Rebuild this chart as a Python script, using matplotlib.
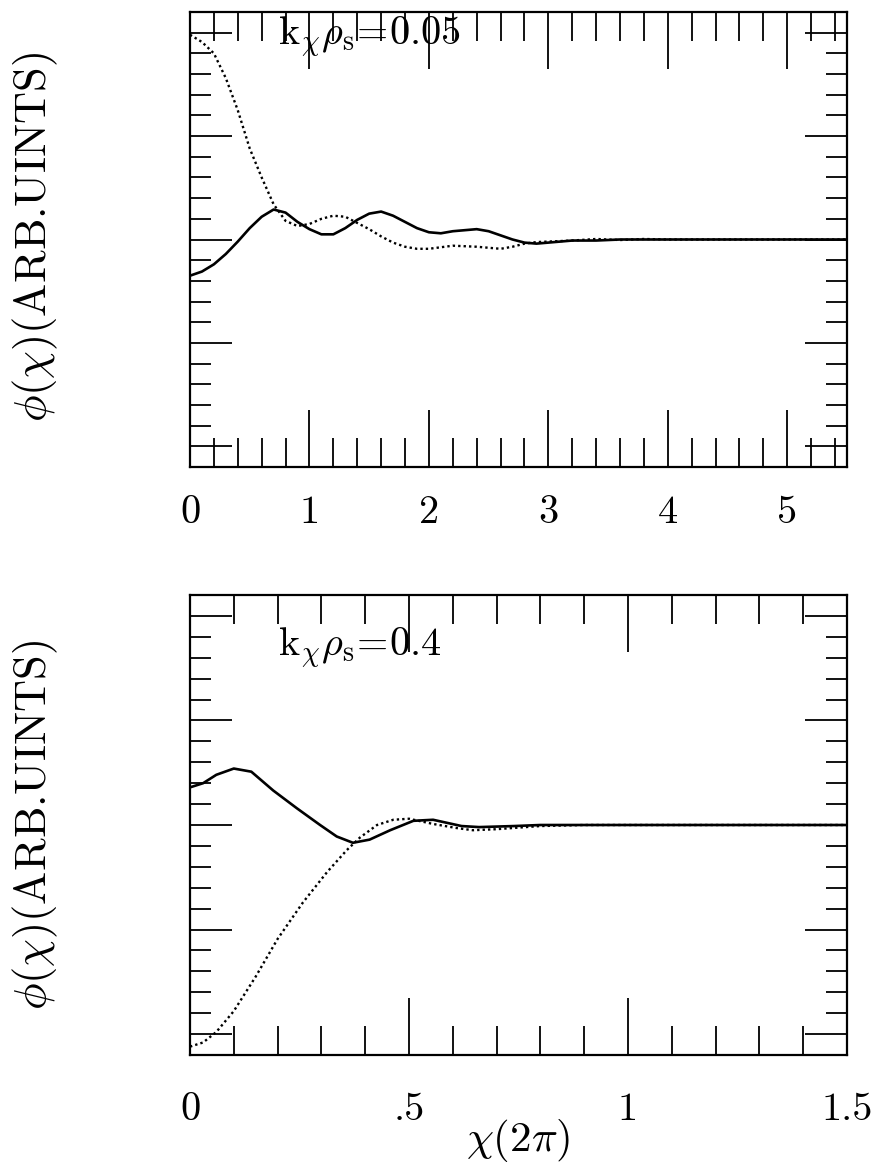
import matplotlib
matplotlib.use("Agg")
import matplotlib.pyplot as plt
from matplotlib.ticker import MultipleLocator, FixedLocator, FixedFormatter

plt.rcParams["font.family"] = "serif"
plt.rcParams["font.serif"] = ["cmr10", "DejaVu Serif"]
plt.rcParams["mathtext.fontset"] = "cm"
plt.rcParams["axes.unicode_minus"] = False

# panel a: k_x rho_s = 0.05, x in units of 2 pi
top_solid_x = [0, 0.1, 0.2, 0.3, 0.4, 0.5, 0.6, 0.7, 0.8, 0.9, 1.0, 1.1, 1.2, 1.3, 1.4, 1.5,
               1.6, 1.7, 1.8, 1.9, 2.0, 2.1, 2.2, 2.3, 2.4, 2.5, 2.6, 2.7, 2.8, 2.9, 3.0,
               3.2, 3.4, 3.6, 4.0, 4.5, 5.0, 5.5]
top_solid_y = [-0.35, -0.31, -0.24, -0.14, -0.02, 0.11, 0.22, 0.29, 0.26, 0.17, 0.10, 0.05,
               0.05, 0.11, 0.19, 0.25, 0.27, 0.23, 0.17, 0.11, 0.07, 0.06, 0.08, 0.09, 0.10,
               0.08, 0.04, 0.0, -0.03, -0.04, -0.03, -0.01, -0.01, 0.0, 0.0, 0.0, 0.0, 0.0]

top_dot_x = [0, 0.1, 0.2, 0.3, 0.4, 0.5, 0.6, 0.7, 0.8, 0.9, 1.0, 1.1, 1.2, 1.3, 1.4, 1.5,
             1.6, 1.7, 1.8, 1.9, 2.0, 2.2, 2.4, 2.6, 2.7, 2.8, 2.9, 3.0, 3.2, 3.4, 3.6,
             3.8, 4.0, 4.5, 5.0, 5.5]
top_dot_y = [1.98, 1.91, 1.80, 1.56, 1.25, 0.88, 0.60, 0.34, 0.18, 0.13, 0.15, 0.20, 0.23,
             0.22, 0.16, 0.10, 0.03, -0.03, -0.07, -0.09, -0.09, -0.06, -0.07, -0.09, -0.07,
             -0.04, -0.025, -0.02, -0.01, 0.005, -0.005, 0.005, 0.0, 0.0, 0.0, 0.0]

# panel b: k_x rho_s = 0.4
bot_solid_x = [0, 0.03, 0.06, 0.1, 0.14, 0.19, 0.244, 0.297, 0.335, 0.372, 0.41, 0.457,
               0.51, 0.555, 0.62, 0.66, 0.74, 0.8, 0.9, 1.0, 1.2, 1.5]
bot_solid_y = [0.36, 0.40, 0.48, 0.54, 0.51, 0.33, 0.16, 0.0, -0.11, -0.17, -0.14, -0.05,
               0.04, 0.05, -0.01, -0.02, -0.01, 0.0, 0.0, 0.0, 0.0, 0.0]

bot_dot_x = [0, 0.03, 0.06, 0.1, 0.15, 0.2, 0.258, 0.313, 0.358, 0.388, 0.427, 0.464,
             0.50, 0.555, 0.61, 0.646, 0.70, 0.8, 0.9, 1.0, 1.2, 1.5]
bot_dot_y = [-2.12, -2.08, -1.98, -1.78, -1.45, -1.09, -0.74, -0.45, -0.24, -0.12, 0.0,
             0.05, 0.06, 0.01, -0.03, -0.05, -0.04, -0.01, 0.0, 0.0, 0.0, 0.0]

top_xticks = [0, 1, 2, 3, 4, 5]
top_xlabels = ["0", "1", "2", "3", "4", "5"]
bot_xticks = [0, 0.5, 1.0, 1.5]
bot_xlabels = ["0", ".5", "1", "1.5"]

ylabel = r"$\phi(\chi)$(ARB.UINTS)"
xlabel = r"$\chi(2\pi)$"

W, H = 883, 1166
fig = plt.figure(figsize=(W / 100, H / 100), dpi=100)


def style_axes(ax, xmax, xminor, ticks, labels, pad):
    ax.set_xlim(0, xmax)
    ax.set_ylim(-2.2, 2.2)
    ax.xaxis.set_major_locator(FixedLocator(ticks))
    ax.xaxis.set_major_formatter(FixedFormatter(labels))
    ax.xaxis.set_minor_locator(MultipleLocator(xminor))
    ax.yaxis.set_major_locator(MultipleLocator(1))
    ax.yaxis.set_minor_locator(MultipleLocator(0.2))
    ax.tick_params(which="both", direction="in", top=True, right=True, width=1.3, color="black")
    ax.tick_params(axis="x", which="major", length=41, pad=pad, labelsize=29)
    ax.tick_params(axis="x", which="minor", length=21)
    ax.tick_params(axis="y", which="major", length=30, labelleft=False)
    ax.tick_params(axis="y", which="minor", length=15)
    for s in ax.spines.values():
        s.set_linewidth(1.6)


ax1 = fig.add_axes([190 / W, 1 - 467 / H, 657 / W, 455 / H])
ax1.plot(top_solid_x, top_solid_y, color="black", lw=1.9)
ax1.plot(top_dot_x, top_dot_y, color="black", lw=1.7, linestyle=(0, (1, 1.3)))
style_axes(ax1, 5.5, 0.2, top_xticks, top_xlabels, 20)
ax1.text(0.134, 0.945, r"$\mathrm{k}_{\chi}\rho_{\mathrm{s}}\!=\!0.05$", transform=ax1.transAxes,
         fontsize=29, ha="left", va="center")

ax2 = fig.add_axes([190 / W, 1 - 1055 / H, 657 / W, 460 / H])
ax2.plot(bot_solid_x, bot_solid_y, color="black", lw=1.9)
ax2.plot(bot_dot_x, bot_dot_y, color="black", lw=1.7, linestyle=(0, (1, 1.3)))
style_axes(ax2, 1.5, 0.1, bot_xticks, bot_xlabels, 27)
ax2.text(0.134, 0.885, r"$\mathrm{k}_{\chi}\rho_{\mathrm{s}}\!=\!0.4$", transform=ax2.transAxes,
         fontsize=29, ha="left", va="center")

fig.text(518 / W, 1 - 1140 / H, xlabel, ha="center", va="center", fontsize=31)
fig.text(35 / W, 1 - 237 / H, ylabel, rotation=90, ha="center", va="center", fontsize=32)
fig.text(35 / W, 1 - 825 / H, ylabel, rotation=90, ha="center", va="center", fontsize=32)

fig.savefig("out.png", dpi=100)
